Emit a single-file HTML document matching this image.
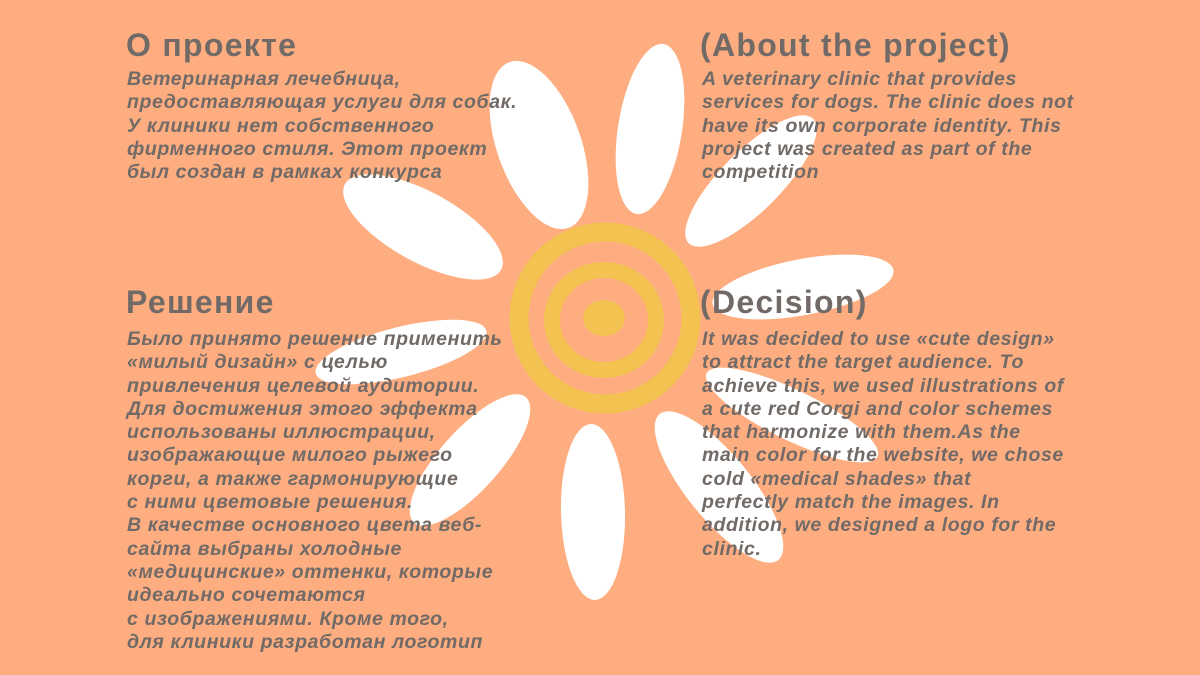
<!DOCTYPE html>
<html><head><meta charset="utf-8"><style>
html,body{margin:0;padding:0}
body{width:1200px;height:675px;background:#FDAD80;position:relative;overflow:hidden;font-family:"Liberation Sans","DejaVu Sans",sans-serif;color:#716a67}
svg{position:absolute;left:0;top:0}
.h{position:absolute;font-weight:bold;font-size:32px;line-height:36px;letter-spacing:1.3px;margin:0}
.b{position:absolute;font-weight:bold;font-style:italic;font-size:19.5px;line-height:23.3px;letter-spacing:0.6px;white-space:nowrap}
</style></head><body>
<svg width="1200" height="675" viewBox="0 0 1200 675">
<g fill="#fff">
<ellipse cx="539" cy="145" rx="88" ry="42" transform="rotate(70.4 539 145)"/>
<ellipse cx="650" cy="129" rx="86" ry="32" transform="rotate(99 650 129)"/>
<ellipse cx="751" cy="181" rx="88" ry="30" transform="rotate(-45 751 181)"/>
<ellipse cx="803" cy="287" rx="92" ry="28" transform="rotate(-10.7 803 287)"/>
<ellipse cx="792" cy="415" rx="95" ry="25" transform="rotate(26 792 415)"/>
<ellipse cx="719" cy="487" rx="94" ry="32" transform="rotate(50.9 719 487)"/>
<ellipse cx="593" cy="512" rx="88" ry="32" transform="rotate(88.7 593 512)"/>
<ellipse cx="470" cy="460" rx="84" ry="30" transform="rotate(131.8 470 460)"/>
<ellipse cx="401" cy="352" rx="88" ry="25" transform="rotate(166 401 352)"/>
<ellipse cx="423" cy="227" rx="89" ry="35" transform="rotate(28.7 423 227)"/>
</g>
<g fill="none" stroke="#F4C250">
<ellipse cx="605" cy="318" rx="86" ry="86" stroke-width="19"/>
<ellipse cx="604" cy="320" rx="52" ry="50" stroke-width="16"/>
</g>
<ellipse cx="604" cy="318" rx="21" ry="18" fill="#F4C250"/>
</svg>
<div class="h" style="left:126px;top:27px">О проекте</div>
<div class="b" style="left:127px;top:68px">Ветеринарная лечебница,<br>предоставляющая услуги для собак.<br>У клиники нет собственного<br>фирменного стиля. Этот проект<br>был создан в рамках конкурса</div>
<div class="h" style="left:700px;top:27px">(About the project)</div>
<div class="b" style="left:702px;top:68px">A veterinary clinic that provides<br>services for dogs. The clinic does not<br>have its own corporate identity. This<br>project was created as part of the<br>competition</div>
<div class="h" style="left:126px;top:284px">Решение</div>
<div class="b" style="left:127px;top:328px">Было принято решение применить<br>«милый дизайн» с целью<br>привлечения целевой аудитории.<br>Для достижения этого эффекта<br>использованы иллюстрации,<br>изображающие милого рыжего<br>корги, а также гармонирующие<br>с ними цветовые решения.<br>В качестве основного цвета веб-<br>сайта выбраны холодные<br>«медицинские» оттенки, которые<br>идеально сочетаются<br>с изображениями. Кроме того,<br>для клиники разработан логотип</div>
<div class="h" style="left:700px;top:284px">(Decision)</div>
<div class="b" style="left:702px;top:328px">It was decided to use «cute design»<br>to attract the target audience. To<br>achieve this, we used illustrations of<br>a cute red Corgi and color schemes<br>that harmonize with them.As the<br>main color for the website, we chose<br>cold «medical shades» that<br>perfectly match the images. In<br>addition, we designed a logo for the<br>clinic.</div>
</body></html>
